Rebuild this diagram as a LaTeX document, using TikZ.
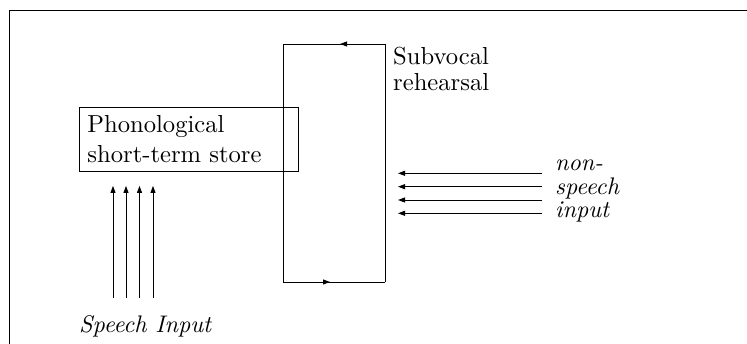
\documentclass[tikz,border=0pt]{standalone}
\usepackage{fontspec}
\setmainfont{lmroman10-regular.otf}[ItalicFont=lmroman10-italic.otf]
\usetikzlibrary{arrows.meta,decorations.markings}
\begin{document}
\begin{tikzpicture}[x=1pt,y=-1pt,
  ln/.style={line width=0.9pt},
  tipped/.style={ln,-{Triangle[length=7pt,width=5pt]}},
  txt/.style={inner sep=0pt,align=left},
  midarrow/.style={ln,postaction={decorate},decoration={markings,
     mark=at position #1 with {\arrow{Triangle[length=7pt,width=5pt]}}}}]
\useasboundingbox (0,0) rectangle (747,344);
\clip (0,0) rectangle (747,344);
% frame
\coordinate (fbl) at (9.5,360);
\coordinate (ftl) at (9.5,10);
\coordinate (ftr) at (760,10);
\draw[ln] (fbl) -- (ftl) -- (ftr);
% phonological store
\node[draw,ln,anchor=north west,minimum width=219pt,minimum height=64pt,
      inner xsep=8pt,inner ysep=0pt,text width=203pt,align=left,
      font=\fontsize{24.6}{30}\selectfont] (pstore) at (79,107)
      {Phonological\\short-term store};
% rehearsal loop
\coordinate (tl) at (283,44);
\coordinate (tr) at (385,44);
\coordinate (bl) at (283,282);
\coordinate (br) at (385,282);
\draw[midarrow=0.441] (tr) -- (tl);
\draw[ln] (tl) -- (bl);
\draw[midarrow=0.461] (bl) -- (br);
\draw[ln] (br) -- (tr);
\node[txt,anchor=base west,font=\fontsize{24.6}{26}\selectfont] (sub) at (393,91)
      {Subvocal\\rehearsal};
% non-speech input
\node[txt,anchor=base west,font=\fontsize{24}{23.5}\selectfont\itshape] (nsp) at (555,218)
      {non-\\speech\\input};
\foreach \i/\y in {1/173.3,2/186.7,3/200,4/213.3}{
  \coordinate (ns\i) at (542,\y);
  \draw[tipped,shorten >=13pt] (ns\i) -- (ns\i -| tr);
}
% speech input
\node[txt,anchor=base west,font=\fontsize{24}{26}\selectfont\itshape] (spi) at (79,333)
      {Speech Input};
\foreach \i/\x in {1/113,2/126,3/139.5,4/153}{
  \coordinate (sp\i) at (\x,298);
  \draw[tipped,shorten >=14pt] (sp\i) -- (sp\i |- pstore.south);
}
\end{tikzpicture}
\end{document}
